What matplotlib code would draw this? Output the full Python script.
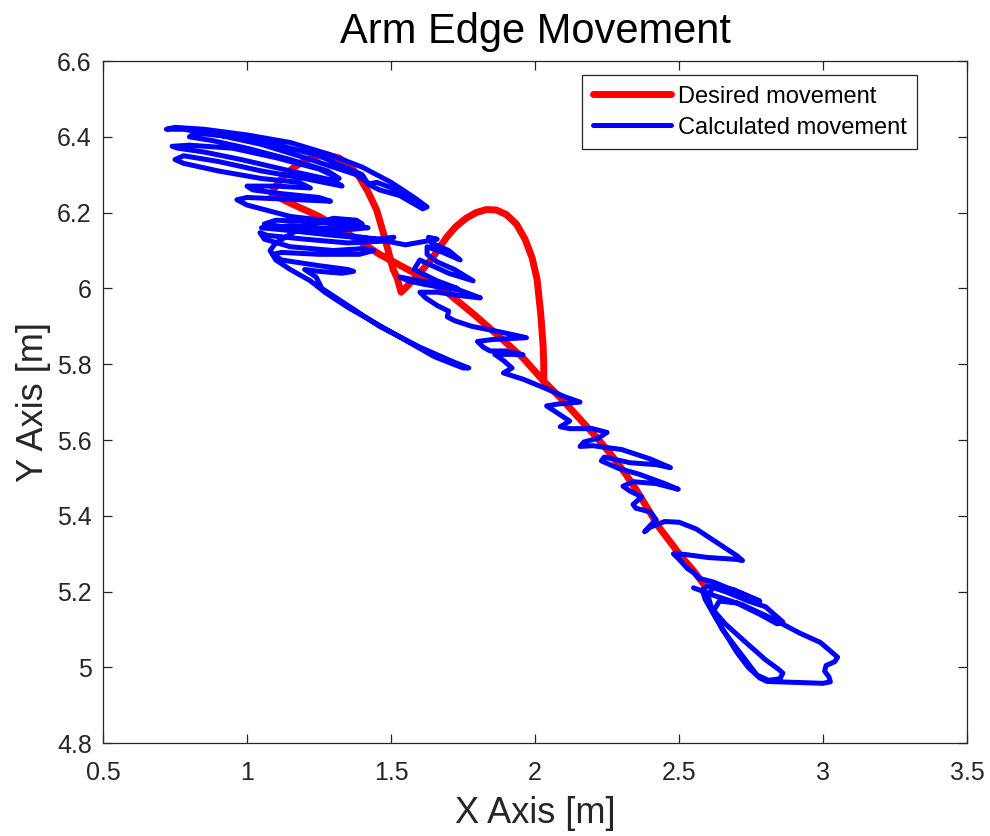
import matplotlib
matplotlib.use("Agg")
import matplotlib.pyplot as plt

# ---------------- data ----------------
desired_x = [2.59, 2.55, 2.51, 2.47, 2.43, 2.39, 2.35, 2.31, 2.26, 2.21, 2.15, 2.09, 2.03,
             2.03, 2.028, 2.02, 2.007, 1.99, 1.965, 1.935, 1.90, 1.865, 1.83, 1.795,
             1.76, 1.725, 1.694, 1.67, 1.646, 1.61, 1.578, 1.555, 1.535,
             1.52, 1.507, 1.49, 1.47, 1.45, 1.42, 1.39, 1.355, 1.32, 1.28, 1.24,
             1.20, 1.16, 1.125, 1.10, 1.085,
             1.15, 1.25, 1.35, 1.46, 1.57, 1.694, 1.79, 1.88, 1.96, 2.03]
desired_y = [5.215, 5.255, 5.29, 5.33, 5.37, 5.42, 5.47, 5.515, 5.565, 5.61, 5.66, 5.71, 5.755,
             5.80, 5.846, 5.93, 6.023, 6.08, 6.13, 6.17, 6.195, 6.207, 6.208, 6.20,
             6.185, 6.163, 6.136, 6.11, 6.083, 6.05, 6.023, 6.005, 5.99,
             6.03, 6.05, 6.10, 6.155, 6.207, 6.255, 6.294, 6.325, 6.344, 6.352, 6.348,
             6.337, 6.318, 6.294, 6.27, 6.25,
             6.225, 6.19, 6.145, 6.09, 6.045, 5.99, 5.93, 5.87, 5.815, 5.755]

calc_x = [2.55, 2.62, 2.72, 2.82, 2.92, 2.99, 3.03, 3.05, 3.04, 3.01,
          3.005, 3.02, 3.025, 3.00, 2.92, 2.85, 2.805, 2.78, 2.74, 2.70,
          2.66, 2.62, 2.59, 2.58, 2.60, 2.66, 2.74, 2.80, 2.86, 2.84,
          2.78, 2.70, 2.64, 2.62, 2.66, 2.73, 2.80, 2.845, 2.86, 2.85,
          2.81, 2.77, 2.73, 2.70, 2.65, 2.615, 2.60, 2.62, 2.69, 2.78,
          2.70, 2.62, 2.57, 2.55, 2.53,
          2.50, 2.48, 2.52, 2.60, 2.70, 2.72, 2.70, 2.63, 2.56, 2.50,
          2.45, 2.40, 2.38, 2.40, 2.42, 2.40, 2.35, 2.34, 2.37, 2.33,
          2.305, 2.34, 2.42, 2.497, 2.45, 2.36, 2.29, 2.23, 2.24, 2.33,
          2.42, 2.47, 2.40, 2.30, 2.20, 2.156, 2.17, 2.22, 2.25, 2.20,
          2.12, 2.087, 2.12, 2.08, 2.04, 2.08, 2.156, 2.10, 2.04, 1.96,
          1.89, 1.92, 1.89, 1.86, 1.92, 1.958, 1.90, 1.844, 1.82, 1.80,
          1.85, 1.97, 1.88, 1.78, 1.72, 1.695, 1.70, 1.66,
          1.62, 1.60, 1.66, 1.75, 1.81, 1.74, 1.62, 1.56, 1.53, 1.60,
          1.70, 1.73, 1.66, 1.58, 1.60, 1.70, 1.785, 1.72, 1.66, 1.625,
          1.625, 1.68, 1.74, 1.70, 1.64, 1.63, 1.66,
          1.55, 1.45, 1.30, 1.15, 1.06, 1.10, 1.25, 1.38, 1.42, 1.35,
          1.15, 1.05, 1.12, 1.30, 1.45, 1.51,
          1.48, 1.35, 1.20, 1.07, 1.045, 1.06, 1.15, 1.30, 1.40, 1.44,
          1.39, 1.25, 1.12, 1.09, 1.12, 1.25, 1.35, 1.37, 1.33, 1.25,
          1.20, 1.24, 1.26, 1.33, 1.46, 1.60, 1.72, 1.77, 1.75, 1.65,
          1.50, 1.35, 1.27, 1.22, 1.15, 1.10, 1.08,
          1.10, 1.20, 1.30, 1.38, 1.40, 1.32, 1.15, 1.00, 0.965, 1.00,
          1.15, 1.29, 1.25, 1.12, 1.02, 1.00, 1.10, 1.22, 1.18, 1.05,
          0.90, 0.78, 0.75, 0.78, 0.90, 1.05, 1.20, 1.33, 1.30, 1.15,
          0.98, 0.85, 0.76, 0.74, 0.80, 0.95, 1.10, 1.25, 1.32, 1.28,
          1.15, 1.00, 0.88, 0.80, 0.82, 0.95, 1.10, 1.25, 1.40, 1.417,
          1.38, 1.20, 1.05, 0.90, 0.78, 0.72, 0.75, 0.85, 1.00, 1.15,
          1.28, 1.40, 1.50, 1.58, 1.625, 1.61, 1.53, 1.46, 1.42, 1.45,
          1.52, 1.60]
calc_y = [5.21, 5.19, 5.165, 5.13, 5.09, 5.066, 5.04, 5.027, 5.015, 5.005,
          4.99, 4.975, 4.962, 4.958, 4.96, 4.962, 4.963, 4.972, 5.00, 5.04,
          5.09, 5.14, 5.18, 5.205, 5.215, 5.20, 5.175, 5.16, 5.12, 5.115,
          5.14, 5.17, 5.175, 5.15, 5.115, 5.067, 5.02, 4.995, 4.985, 4.97,
          4.966, 4.98, 5.02, 5.05, 5.10, 5.15, 5.19, 5.215, 5.205, 5.175,
          5.20, 5.225, 5.235, 5.25, 5.26,
          5.285, 5.30, 5.298, 5.29, 5.285, 5.282, 5.295, 5.33, 5.365, 5.383,
          5.385, 5.37, 5.358, 5.375, 5.39, 5.41, 5.42, 5.43, 5.45, 5.465,
          5.478, 5.49, 5.485, 5.47, 5.485, 5.51, 5.525, 5.545, 5.555, 5.54,
          5.535, 5.527, 5.55, 5.575, 5.585, 5.583, 5.595, 5.605, 5.62, 5.63,
          5.63, 5.635, 5.65, 5.67, 5.69, 5.695, 5.70, 5.715, 5.735, 5.76,
          5.777, 5.79, 5.81, 5.826, 5.826, 5.825, 5.835, 5.835, 5.845, 5.86,
          5.865, 5.87, 5.885, 5.90, 5.915, 5.925, 5.94, 5.955,
          5.975, 5.99, 5.99, 5.98, 5.975, 5.995, 6.01, 6.02, 6.03, 6.02,
          6.005, 6.00, 6.02, 6.05, 6.075, 6.04, 6.02, 6.05, 6.07, 6.09,
          6.11, 6.095, 6.075, 6.10, 6.12, 6.135, 6.13,
          6.115, 6.13, 6.145, 6.16, 6.17, 6.18, 6.175, 6.165, 6.16, 6.155,
          6.165, 6.16, 6.155, 6.14, 6.13, 6.135,
          6.125, 6.12, 6.13, 6.14, 6.147, 6.13, 6.11, 6.10, 6.105, 6.10,
          6.09, 6.09, 6.095, 6.09, 6.075, 6.06, 6.05, 6.045, 6.04, 6.045,
          6.05, 6.03, 6.00, 5.965, 5.90, 5.845, 5.805, 5.79, 5.79, 5.82,
          5.885, 5.95, 5.99, 6.02, 6.05, 6.075, 6.10,
          6.12, 6.165, 6.185, 6.18, 6.17, 6.175, 6.19, 6.22, 6.234, 6.24,
          6.235, 6.23, 6.24, 6.25, 6.26, 6.27, 6.27, 6.265, 6.28, 6.29,
          6.31, 6.33, 6.34, 6.35, 6.335, 6.31, 6.29, 6.27, 6.285, 6.31,
          6.34, 6.36, 6.37, 6.375, 6.378, 6.37, 6.345, 6.315, 6.29, 6.31,
          6.34, 6.37, 6.39, 6.40, 6.41, 6.40, 6.38, 6.35, 6.30, 6.28,
          6.30, 6.345, 6.38, 6.405, 6.42, 6.42, 6.425, 6.42, 6.405, 6.385,
          6.355, 6.32, 6.28, 6.24, 6.215, 6.21, 6.245, 6.26, 6.275, 6.28,
          6.26, 6.225]

x_ticks = [0.5, 1, 1.5, 2, 2.5, 3, 3.5]
x_tick_labels = ["0.5", "1", "1.5", "2", "2.5", "3", "3.5"]
y_ticks = [4.8, 5, 5.2, 5.4, 5.6, 5.8, 6, 6.2, 6.4, 6.6]
y_tick_labels = ["4.8", "5", "5.2", "5.4", "5.6", "5.8", "6", "6.2", "6.4", "6.6"]

# ---------------- plot ----------------
plt.rcParams['font.family'] = ['Liberation Sans', 'DejaVu Sans']

fig = plt.figure(figsize=(9.9, 8.36), dpi=100)
ax = fig.add_axes([0.104, 0.111, 0.873, 0.816])

ax.plot(desired_x, desired_y, color=(1, 0, 0), lw=5.0, label="Desired movement",
        solid_joinstyle='round', solid_capstyle='round')
ax.plot(calc_x, calc_y, color=(0, 0, 1), lw=3.6, label="Calculated movement",
        solid_joinstyle='round', solid_capstyle='round')

ax.set_xlim(0.5, 3.5)
ax.set_ylim(4.8, 6.6)
ax.set_xticks(x_ticks)
ax.set_xticklabels(x_tick_labels)
ax.set_yticks(y_ticks)
ax.set_yticklabels(y_tick_labels)

dark = '#262626'
for s in ax.spines.values():
    s.set_color(dark)
    s.set_linewidth(0.9)
ax.tick_params(direction='in', length=6.5, width=0.9, colors=dark,
               labelsize=18, top=True, right=True)
ax.tick_params(axis='x', pad=13)
ax.tick_params(axis='y', pad=8)

ax.set_title("Arm Edge Movement", fontsize=30, color='black', pad=13)
ax.set_xlabel("X Axis [m]", fontsize=26, color=dark, labelpad=8)
ax.set_ylabel("Y Axis [m]", fontsize=26, color=dark, labelpad=4)

leg = ax.legend(loc='upper right', bbox_to_anchor=(0.942, 0.9795),
                borderaxespad=0, fontsize=17, handlelength=3.3,
                handletextpad=0.3, labelspacing=0.38, borderpad=0.45,
                fancybox=False, framealpha=1, edgecolor=dark)
leg.get_frame().set_linewidth(0.9)

fig.savefig("out.png", dpi=100)
